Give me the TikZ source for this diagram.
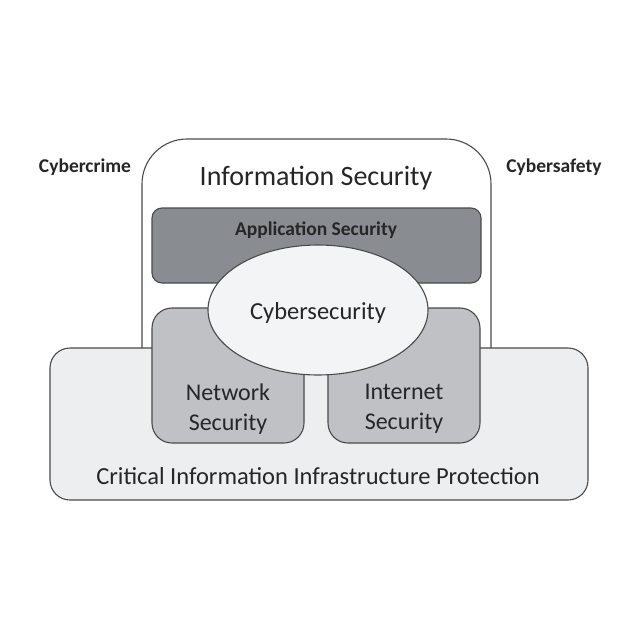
\documentclass[tikz,border=0pt]{standalone}
\usepackage{fontspec}
\setmainfont{Carlito}
\usetikzlibrary{shapes.geometric}
\definecolor{linec}{HTML}{4A4A4A}
\definecolor{textc}{HTML}{262626}
\definecolor{appf}{HTML}{898C90}
\definecolor{netf}{HTML}{BFC1C4}
\definecolor{ciipf}{HTML}{EDEEF0}
\definecolor{ellf}{HTML}{F3F4F5}
\begin{document}
\begin{tikzpicture}[x=1pt,y=-1pt,
  box/.style={draw=linec, line width=1.1pt, inner sep=0pt, outer sep=0pt},
  lbl/.style={text=textc, align=center, inner sep=0pt}]
\useasboundingbox (0,0) rectangle (642,642);
\fill[white] (0,0) rectangle (642,642);
\node[box, fill=white, rounded corners=45pt, minimum width=349pt, minimum height=281pt] (info) at (316.5,279.5) {};
\node[box, fill=ciipf, rounded corners=20pt, minimum width=538pt, minimum height=152pt] (ciip) at (319,424) {};
\node[box, fill=appf, rounded corners=10pt, minimum width=329pt, minimum height=75pt] (app) at (316.5,245.5) {};
\node[box, fill=netf, rounded corners=20pt, minimum width=152pt, minimum height=135pt] (net) at (228,375.5) {};
\node[box, fill=netf, rounded corners=20pt, minimum width=152pt, minimum height=135pt] (inet) at (404,375.5) {};
\node[box, fill=ellf, ellipse, minimum width=220pt, minimum height=130pt] (cyber) at (318,310) {};
\node[lbl, font=\fontsize{28}{32}\selectfont] (infot) at (316,178) {Information Security};
\node[lbl, font=\bfseries\fontsize{19.5}{24}\selectfont] (appt) at (316,230) {Application Security};
\node[lbl, font=\fontsize{24.5}{28}\selectfont] (cybert) at (318,313) {Cybersecurity};
\node[lbl, font=\fontsize{24}{30}\selectfont] (nett) at (228,409) {Network\\Security};
\node[lbl, font=\fontsize{24}{30}\selectfont] (inett) at (404,409) {Internet\\Security};
\node[lbl, font=\fontsize{24.5}{28}\selectfont] (ciipt) at (318,476) {Critical Information Infrastructure Protection};
\node[lbl, font=\bfseries\fontsize{19.5}{24}\selectfont] (crime) at (85,167) {Cybercrime};
\node[lbl, font=\bfseries\fontsize{19.5}{24}\selectfont] (safety) at (554,167) {Cybersafety};
\end{tikzpicture}
\end{document}
